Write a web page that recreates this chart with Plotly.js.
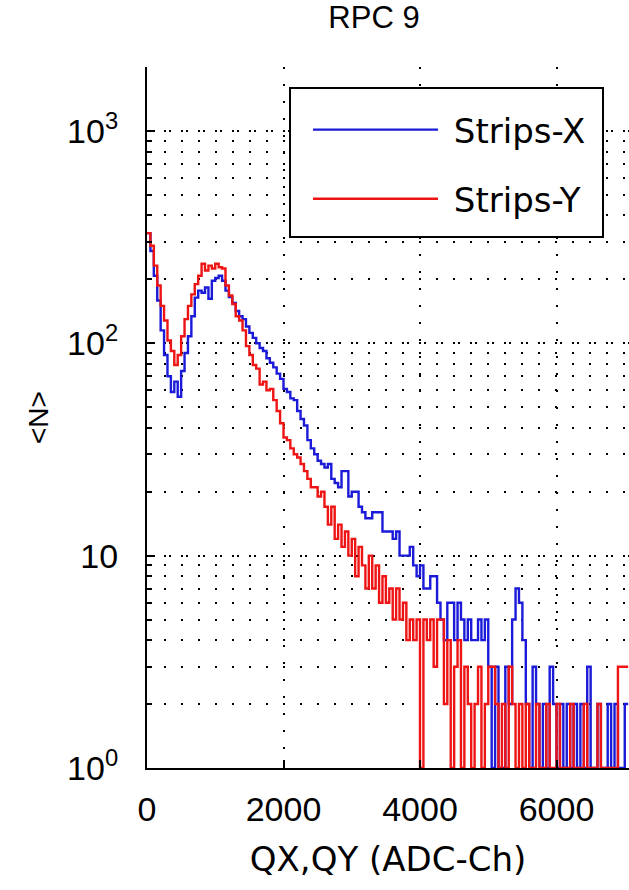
<!DOCTYPE html>
<html>
<head>
<meta charset="utf-8">
<script src="https://cdn.plot.ly/plotly-3.0.1.min.js"></script>
<style>
  html, body { margin: 0; padding: 0; background: #ffffff; overflow: hidden; }
  #chart { width: 629px; height: 890px; }
</style>
</head>
<body>
<div id="chart"></div>
<script>
// Charge spectra of RPC 9: mean counts per 50-channel ADC bin, starting at channel 0.
const BIN_START = 0;
const BIN_WIDTH = 50;

const stripsX = [
  330, 272, 208, 159, 115, 88, 70, 59, 66, 56,
  74, 90, 108, 134, 164, 177, 173, 183, 162, 197,
  203, 208, 197, 177, 165, 155, 142, 134, 130, 120,
  112, 106, 100, 95, 92, 85, 81, 77, 72, 68,
  61, 59, 55, 54, 48, 44, 41, 35, 32, 30,
  28, 27, 26, 27, 23, 22, 21, 25, 25, 19,
  20, 20, 17, 16, 15, 15, 16, 16, 16, 13,
  13, 13, 12, 13, 10, 10, 10, 11, 9, 8,
  9, 7, 7, 8, 8, 6, 5, 4, 6, 6,
  4, 6, 5, 4, 5, 4, 4, 5, 4, 5,
  3, 1, 3, 1, 1, 3, 2, 5, 7, 6,
  4, 2, 1, 3, 2, 1, 2, 1, 3, 2,
  1, 2, 1, 2, 1, 2, 1, 2, 1, 3,
  1, 1, 2, 1, 1, 2, 1, 2, 1, 1,
  2
];

const stripsY = [
  330, 288, 232, 187, 150, 128, 103, 92, 79, 88,
  108, 130, 150, 170, 190, 208, 237, 220, 232, 225,
  237, 228, 225, 187, 168, 153, 134, 128, 115, 97,
  88, 79, 76, 64, 66, 60, 61, 54, 48, 42,
  36, 35, 32, 30, 29, 27, 25, 23, 21, 21,
  19, 20, 17, 14, 17, 12, 14, 11, 13, 10,
  12, 8, 11, 9, 7, 10, 7, 9, 6, 8,
  6, 7, 5, 7, 5, 6, 4, 5, 4, 5,
  1, 5, 4, 5, 3, 5, 5, 2, 4, 1,
  3, 4, 1, 3, 2, 1, 2, 3, 1, 2,
  3, 3, 2, 1, 2, 1, 3, 2, 1, 2,
  1, 2, 1, 1, 2, 1, 1, 2, 1, 1,
  2, 1, 1, 1, 2, 1, 1, 1, 2, 1,
  1, 1, 2, 1, 1, 1, 1, 1, 3, 3,
  3
];

const seriesNames = ['Strips-X', 'Strips-Y'];
const xTickVals = [0, 2000, 4000, 6000];
const yTickVals = [1, 10, 100, 1000];
const yTickText = ['10<sup>0</sup>', '10', '10<sup>2</sup>', '10<sup>3</sup>'];
const yMinorVals = [2, 3, 4, 5, 6, 7, 8, 9, 20, 30, 40, 50, 60, 70, 80, 90,
                    200, 300, 400, 500, 600, 700, 800, 900, 2000];

// Stairs: each bin is drawn from its left edge; a closing point ends the last step.
function stairs(counts) {
  const x = counts.map((_, i) => BIN_START + i * BIN_WIDTH);
  const y = counts.slice();
  x.push(BIN_START + counts.length * BIN_WIDTH);
  y.push(counts[counts.length - 1]);
  return { x, y };
}

const sx = stairs(stripsX);
const sy = stairs(stripsY);

const SANS = 'Liberation Sans, Arial, sans-serif';
const WIDE = 'DejaVu Sans, Verdana, sans-serif';
const NBSP = '\u00a0';

const traces = [
  {
    type: 'scatter', mode: 'lines', name: NBSP + seriesNames[0], legendgroup: 'x',
    x: sx.x, y: sx.y,
    line: { shape: 'hv', color: '#1a1ad8', width: 2.4 }
  },
  {
    type: 'scatter', mode: 'lines', name: NBSP + seriesNames[1], legendgroup: 'y',
    x: sy.x, y: sy.y,
    line: { shape: 'hv', color: '#ee1414', width: 2.4 }
  }
];

const layout = {
  width: 629, height: 890,
  margin: { l: 147, r: 0, t: 67, b: 122 },
  paper_bgcolor: '#ffffff', plot_bgcolor: '#ffffff',
  font: { family: SANS, size: 34, color: '#000000' },
  showlegend: true,
  title: {
    text: 'RPC 9',
    font: { family: SANS, size: 31, color: '#000000' },
    x: 374 / 629, xanchor: 'center', xref: 'container',
    y: 1 - 17 / 890, yanchor: 'middle', yref: 'container'
  },
  // legend frame sits above the dotted grid
  shapes: [{
    type: 'rect', xref: 'paper', yref: 'paper', layer: 'above',
    x0: (290 - 147) / 482, x1: (603 - 147) / 482,
    y0: (768 - 237) / 701, y1: (768 - 88) / 701,
    fillcolor: '#ffffff', line: { color: '#000000', width: 2 }
  }],
  xaxis: {
    type: 'linear',
    range: [0, 7062],
    tickvals: xTickVals,
    ticks: 'inside', ticklen: 8, tickwidth: 2, tickcolor: '#000000',
    ticklabelstandoff: 10,
    tickfont: { family: SANS, size: 34, color: '#000000' },
    showline: true, linewidth: 2, linecolor: '#000000', mirror: false,
    showgrid: true, gridcolor: '#000000', gridwidth: 2, griddash: '2px,15px',
    zeroline: false,
    title: { text: 'QX,QY (ADC-Ch)', standoff: 20,
             font: { family: WIDE, size: 34, color: '#000000' } }
  },
  yaxis: {
    type: 'log',
    range: [0, Math.log10(2000)],
    tickvals: yTickVals, ticktext: yTickText,
    ticks: 'inside', ticklen: 8, tickwidth: 2, tickcolor: '#000000',
    ticklabelstandoff: 20,
    tickfont: { family: SANS, size: 34, color: '#000000' },
    showline: true, linewidth: 2, linecolor: '#000000', mirror: false,
    showgrid: true, gridcolor: '#000000', gridwidth: 2, griddash: '2px,3px,2px,10px',
    zeroline: false,
    minor: {
      tickvals: yMinorVals,
      ticks: 'inside', ticklen: 5, tickwidth: 2, tickcolor: '#000000',
      showgrid: true, gridcolor: '#000000', gridwidth: 2, griddash: '2px,15px'
    },
    title: { text: '&lt;N&gt;', standoff: 10,
             font: { family: SANS, size: 28, color: '#000000' } }
  },
  legend: {
    x: (308 - 147) / 482, y: (768 - 101) / 701,
    xanchor: 'left', yanchor: 'top',
    xref: 'paper', yref: 'paper',
    bgcolor: 'rgba(0,0,0,0)', borderwidth: 0,
    font: { family: WIDE, size: 34, color: '#000000' },
    itemwidth: 125,
    traceorder: 'grouped',
    tracegroupgap: 22
  }
};

Plotly.newPlot('chart', traces, layout, { displayModeBar: false, staticPlot: true });
</script>
</body>
</html>
